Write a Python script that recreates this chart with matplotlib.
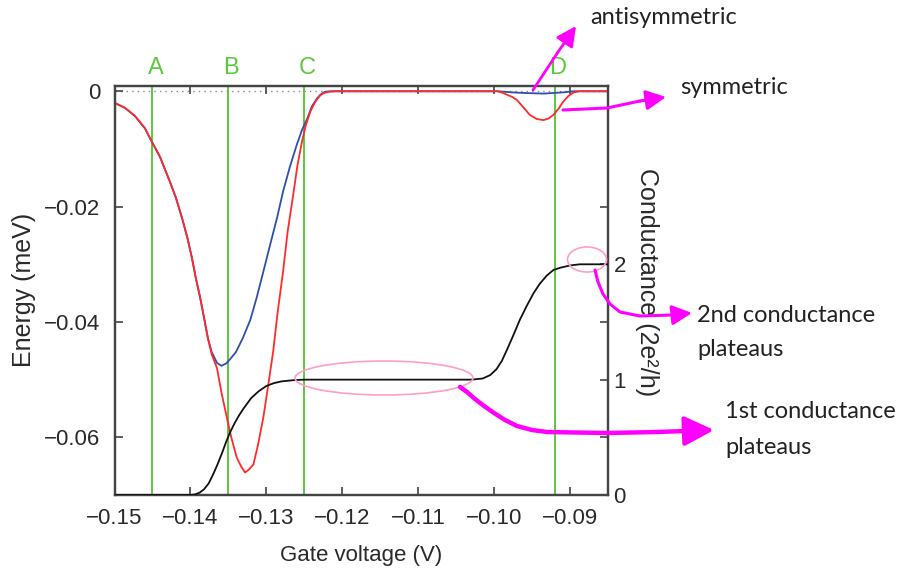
import matplotlib
matplotlib.use("Agg")
import matplotlib.pyplot as plt
from matplotlib.patches import Ellipse, FancyArrowPatch

# ---------------- data ----------------
# antisymmetric (blue) energy (meV) vs gate voltage (V)
anti_x = [-0.1500, -0.1486, -0.1473, -0.1460, -0.1451, -0.1440, -0.1427, -0.1419,
          -0.1411, -0.1404, -0.1398, -0.1393, -0.1387, -0.1382, -0.1377, -0.1372,
          -0.1365, -0.1359, -0.1353, -0.1348, -0.1340, -0.1331, -0.1321, -0.1313,
          -0.1304, -0.1295, -0.1286, -0.1278, -0.1269, -0.1260, -0.1253, -0.1246,
          -0.1240, -0.1233, -0.1228, -0.1223, -0.1216, -0.0995, -0.0975, -0.0960,
          -0.0935, -0.0910, -0.0895, -0.0850]
anti_e = [-0.0020, -0.0029, -0.0043, -0.0064, -0.0087, -0.0114, -0.0157, -0.0185,
          -0.0220, -0.0254, -0.0289, -0.0323, -0.0359, -0.0393, -0.0428, -0.0452,
          -0.0471, -0.0476, -0.0472, -0.0465, -0.0452, -0.0428, -0.0396, -0.0359,
          -0.0313, -0.0266, -0.0220, -0.0174, -0.0131, -0.0093, -0.0067, -0.0047,
          -0.0026, -0.0012, -0.0005, -0.0001, 0.0000, 0.0000, -0.0002, -0.0003,
          -0.0004, -0.0002, 0.0000, 0.0000]

# symmetric (red) energy (meV) vs gate voltage (V)
sym_x = [-0.1500, -0.1486, -0.1473, -0.1460, -0.1451, -0.1440, -0.1427, -0.1419,
         -0.1411, -0.1404, -0.1398, -0.1393, -0.1387, -0.1382, -0.1377, -0.1372,
         -0.1365, -0.1359, -0.1352, -0.1346, -0.1339, -0.1333, -0.1328, -0.1323,
         -0.1317, -0.1311, -0.1304, -0.1298, -0.1291, -0.1285, -0.1278, -0.1272,
         -0.1264, -0.1259, -0.1253, -0.1248, -0.1242, -0.1236, -0.1229, -0.1224,
         -0.1218, -0.1209, -0.0996, -0.0990, -0.0983, -0.0976, -0.0970, -0.0962,
         -0.0953, -0.0944, -0.0935, -0.0928, -0.0922, -0.0915, -0.0909, -0.0902,
         -0.0895, -0.0888, -0.0850]
sym_e = [-0.0020, -0.0029, -0.0043, -0.0064, -0.0087, -0.0114, -0.0157, -0.0185,
         -0.0220, -0.0254, -0.0289, -0.0323, -0.0359, -0.0393, -0.0428, -0.0456,
         -0.0480, -0.0523, -0.0566, -0.0601, -0.0635, -0.0651, -0.0661, -0.0656,
         -0.0647, -0.0613, -0.0566, -0.0514, -0.0451, -0.0382, -0.0313, -0.0244,
         -0.0174, -0.0128, -0.0087, -0.0059, -0.0035, -0.0019, -0.0007, -0.0003,
         -0.0001, 0.0000, 0.0000, -0.0002, -0.0006, -0.0010, -0.0015, -0.0027,
         -0.0041, -0.0048, -0.0050, -0.0047, -0.0041, -0.0030, -0.0018, -0.0008,
         -0.0002, 0.0000, 0.0000]

# conductance (black) in units of 2e^2/h
cond_x = [-0.1500, -0.1400, -0.1394, -0.1388, -0.1382, -0.1376, -0.1370, -0.1364,
          -0.1358, -0.1353, -0.1348, -0.1342, -0.1336, -0.1330, -0.1320, -0.1310,
          -0.1300, -0.1290, -0.1280, -0.1265, -0.1250, -0.1030, -0.1015, -0.1005,
          -0.0997, -0.0990, -0.0983, -0.0975, -0.0966, -0.0957, -0.0948, -0.0940,
          -0.0931, -0.0922, -0.0913, -0.0900, -0.0887, -0.0851]
cond_g = [0.000, 0.000, 0.005, 0.020, 0.050, 0.100, 0.180, 0.270,
          0.370, 0.460, 0.540, 0.620, 0.690, 0.750, 0.840, 0.900,
          0.945, 0.970, 0.985, 0.995, 1.000, 1.000, 1.010, 1.040,
          1.090, 1.160, 1.260, 1.380, 1.520, 1.640, 1.750, 1.830,
          1.900, 1.950, 1.970, 1.990, 2.000, 2.000]

marker_labels = ["A", "B", "C", "D"]
marker_x = [-0.145, -0.135, -0.125, -0.092]

x_ticks = [-0.15, -0.14, -0.13, -0.12, -0.11, -0.10, -0.09]
x_tick_labels = ["\u22120.15", "\u22120.14", "\u22120.13", "\u22120.12", "\u22120.11", "\u22120.10", "\u22120.09"]
y_ticks = [0, -0.02, -0.04, -0.06]
y_tick_labels = ["0", "\u22120.02", "\u22120.04", "\u22120.06"]
g_ticks = [0, 1, 2]
g_tick_labels = ["0", "1", "2"]
g_minor_ticks = [0.5, 1.5, 2.5]

# ---------------- figure ----------------
W, H = 901, 579
fig = plt.figure(figsize=(W / 100, H / 100), dpi=100)
fig.patch.set_facecolor("white")

L, R, T, B = 114.5, 608, 85.5, 495
ax = fig.add_axes([L / W, 1 - B / H, (R - L) / W, (B - T) / H])
ax.set_xlim(-0.15, -0.085)
ax.set_ylim(-0.07, 0.001)

tick_font = dict(family="Liberation Sans", size=16)
GREEN = "#5cc83c"
RED = "#ff2a2a"
BLUE = "#2e4fb0"
MAG = "#ff00ff"
PINK = "#ff9ec8"
SPINE = "#444444"
TXT = "#2a2a2a"

ax.axhline(0, color="#888888", ls=(0, (1, 3)), lw=1.0, zorder=1)
for xv in marker_x:
    ax.axvline(xv, color=GREEN, lw=1.4, zorder=2)
for lab, xv in zip(marker_labels, marker_x):
    ax.text(xv + 0.0004, 1.043, lab, transform=ax.get_xaxis_transform(),
            ha="center", va="center", color=GREEN, family="Liberation Sans", size=17)

ax.plot(anti_x, anti_e, color=BLUE, lw=1.3, zorder=3)
ax.plot(sym_x, sym_e, color=RED, lw=1.3, zorder=4)

ax.set_xticks(x_ticks)
ax.set_xticklabels(x_tick_labels, color=TXT, **tick_font)
ax.set_yticks(y_ticks)
ax.set_yticklabels(y_tick_labels, color=TXT, **tick_font)
ax.tick_params(axis="x", direction="in", top=True, length=6, width=1.2, pad=9, color=SPINE)
ax.tick_params(axis="y", direction="in", right=False, length=6, width=1.2, pad=10, color=SPINE)
for s in ax.spines.values():
    s.set_color(SPINE)
    s.set_linewidth(1.6)

ax.set_xlabel("Gate voltage (V)", family="Liberation Sans", size=16, labelpad=12, color=TXT)
ax.set_ylabel("Energy (meV)", family="Liberation Sans", size=18, labelpad=6, color=TXT)

ax2 = ax.twinx()
ax2.set_ylim(0, (0.001 + 0.07) * 50)
ax2.plot(cond_x, cond_g, color="#111111", lw=1.3, zorder=5)
ax2.set_yticks(g_ticks)
ax2.set_yticklabels(g_tick_labels, color=TXT, **tick_font)
ax2.set_yticks(g_minor_ticks, minor=True)
ax2.tick_params(axis="y", which="both", direction="in", length=6, width=1.2, pad=4, color=SPINE)
for s in ax2.spines.values():
    s.set_color(SPINE)
    s.set_linewidth(1.6)
ax2.set_ylabel("Conductance (2e\u00b2/h)", family="Liberation Sans", size=18,
               rotation=-90, va="center", color=TXT)
ax2.yaxis.set_label_coords(1.08, 0.52)

# ---------------- annotation overlay (pixel coordinates) ----------------
ov = fig.add_axes([0, 0, 1, 1], zorder=10)
ov.set_xlim(0, W)
ov.set_ylim(H, 0)
ov.axis("off")
ov.patch.set_alpha(0)

ov.add_patch(Ellipse((384, 378), 178, 34, fill=False, ec=PINK, lw=1.2))
ov.add_patch(Ellipse((587, 259.5), 39, 25, fill=False, ec=PINK, lw=1.2))

ann_font = dict(family="Lato", size=17, color="#222222", va="center", ha="left")
ov.text(590, 18, "antisymmetric", **ann_font)
ov.text(680, 87, "symmetric", **ann_font)
ov.text(697, 316, "2nd conductance", **ann_font)
ov.text(697, 350, "plateaus", **ann_font)
ov.text(725, 412, "1st conductance", **ann_font)
ov.text(725, 447, "plateaus", **ann_font)


def arrow_path(pts, lw, head):
    xs = [p[0] for p in pts]
    ys = [p[1] for p in pts]
    ov.plot(xs[:-1], ys[:-1], color=MAG, lw=lw, solid_capstyle="round",
            solid_joinstyle="round")
    a = FancyArrowPatch((xs[-2], ys[-2]), (xs[-1], ys[-1]),
                        arrowstyle=f"-|>,head_length={head},head_width={head*0.5}",
                        color=MAG, lw=lw, mutation_scale=1, shrinkA=0, shrinkB=0)
    ov.add_patch(a)


arrow_path([(533, 90), (558, 52), (576, 26)], 2.0, 12)
arrow_path([(563, 110), (607, 108), (640, 101), (666, 97)], 2.2, 12)
arrow_path([(595, 270), (598, 282), (603, 294), (610, 304), (620, 312), (640, 316),
            (673, 315), (692, 313)], 2.2, 12)
arrow_path([(460, 387), (467, 392), (475, 399), (484, 406), (494, 413), (505, 420),
            (517, 426), (532, 430), (547, 432), (607, 433), (657, 432), (714, 430)], 3.2, 18)

fig.savefig("out.png", dpi=100)
